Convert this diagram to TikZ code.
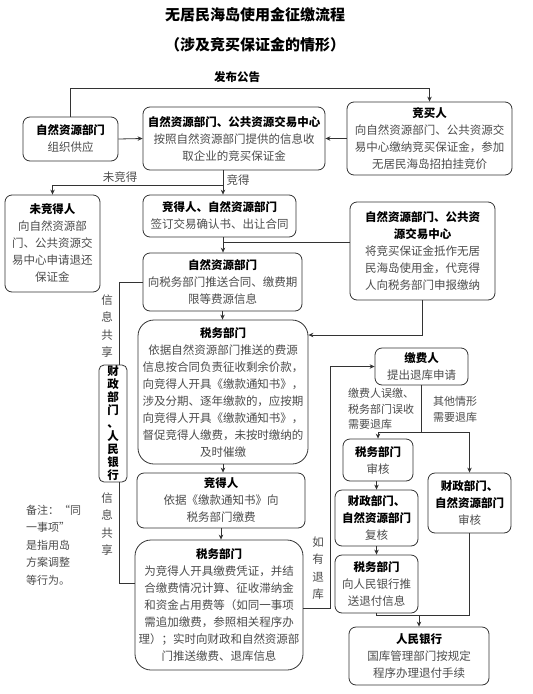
\documentclass[tikz,border=0pt]{standalone}
\usepackage{fontspec}
\setmainfont{Noto Sans CJK SC}
\usetikzlibrary{arrows.meta, positioning, calc}

\newcommand{\boxhead}[1]{\textcolor{black}{\bfseries #1}}

\begin{document}
\begin{tikzpicture}[
    x=1pt, y=-1pt,
    font=\fontsize{11.5}{17}\selectfont,
    box/.style={draw=black!80, line width=0.8pt, rounded corners=7pt, align=center, inner sep=0pt, text=black!70},
    bigbox/.style={box, rounded corners=16pt},
    arr/.style={-{Stealth[length=5pt,width=4.5pt]}, line width=0.8pt, draw=black!80},
    conn/.style={line width=0.8pt, draw=black!80},
    lab/.style={text=black!70, inner sep=0pt},
    vlab/.style={lab, align=center, font=\fontsize{11.5}{17.5}\selectfont},
]

\fill[white] (0,0) rectangle (533,694);
\useasboundingbox (0,0) rectangle (533,694);

% ===== Title =====
\node[font=\bfseries\fontsize{15}{18}\selectfont] (title) at (255,15) {无居民海岛使用金征缴流程};
\node[font=\bfseries\fontsize{15}{18}\selectfont] (subtitle) at (255,45) {（涉及竞买保证金的情形）};

% ===== Top row =====
\node[box, minimum width=95pt, minimum height=44pt] (supply) at (70.5,139) {\boxhead{自然资源部门}\\组织供应};
\node[box, minimum width=182pt, minimum height=63pt] (centre) at (234,138.5) {\boxhead{自然资源部门、公共资源交易中心}\\按照自然资源部门提供的信息收\\取企业的竞买保证金};
\node[box, minimum width=165pt, minimum height=73pt] (bidder) at (429.5,138.5) {\boxhead{竞买人}\\向自然资源部门、公共资源交\\易中心缴纳竞买保证金，参加\\无居民海岛招拍挂竞价};

% ===== Second row =====
\node[box, minimum width=95pt, minimum height=97pt] (loser) at (52.5,243.5) {\boxhead{未竞得人}\\向自然资源部\\门、公共资源交\\易中心申请退还\\保证金};
\node[box, minimum width=153pt, minimum height=42pt] (contract) at (219.5,216) {\boxhead{竞得人、自然资源部门}\\签订交易确认书、出让合同};
\node[box, minimum width=145pt, minimum height=98pt] (offset) at (422.5,251) {\boxhead{自然资源部门、公共资}\\\boxhead{源交易中心}\\将竞买保证金抵作无居\\民海岛使用金，代竞得\\人向税务部门申报缴纳};

% ===== Main column =====
\node[box, minimum width=159pt, minimum height=58pt] (push) at (222.5,282) {\boxhead{自然资源部门}\\向税务部门推送合同、缴费期\\限等费源信息};
\node[bigbox, minimum width=170pt, minimum height=144pt] (tax) at (223,392) {\boxhead{税务部门}\\依据自然资源部门推送的费源\\信息按合同负责征收剩余价款，\\向竞得人开具《缴款通知书》，\\涉及分期、逐年缴款的，应按期\\向竞得人开具《缴款通知书》，\\督促竞得人缴费，未按时缴纳的\\及时催缴};
\node[box, minimum width=168pt, minimum height=55pt] (winner) at (221,500.5) {\boxhead{竞得人}\\依据《缴款通知书》向\\税务部门缴费};
\node[bigbox, minimum width=168pt, minimum height=130pt] (receipt) at (219,605) {\boxhead{税务部门}\\为竞得人开具缴费凭证，并结\\合缴费情况计算、征收滞纳金\\和资金占用费等（如同一事项\\需追加缴费，参照相关程序办\\理）；实时向财政和自然资源部\\门推送缴费、退库信息};

% ===== Left side: finance / bank =====
\node[box, rounded corners=5pt, text=black, font=\bfseries\fontsize{11.5}{13}\selectfont, minimum width=28pt, minimum height=117pt] (finbank) at (113,423.5) {财\\政\\部\\门\\、\\人\\民\\银\\行};
\node[lab, anchor=west, align=left, font=\fontsize{11}{17.5}\selectfont] (note) at (26,545) {备注：“同\\一事项”\\是指用岛\\方案调整\\等行为。};

% ===== Right side: refund =====
\node[box, minimum width=93pt, minimum height=37pt] (payer) at (421.5,366.5) {\boxhead{缴费人}\\提出退库申请};
\node[box, minimum width=70pt, minimum height=42pt] (taxcheck) at (378,460) {\boxhead{税务部门}\\审核};
\node[box, minimum width=83pt, minimum height=60pt] (fincheck) at (469.5,503) {\boxhead{财政部门、}\\\boxhead{自然资源部门}\\审核};
\node[box, minimum width=83pt, minimum height=56pt] (recheck) at (376.5,518) {\boxhead{财政部门、}\\\boxhead{自然资源部门}\\复核};
\node[box, minimum width=83pt, minimum height=58pt] (taxpush) at (376.5,584) {\boxhead{税务部门}\\向人民银行推\\送退付信息};
\node[box, minimum width=140pt, minimum height=58pt] (bank) at (419,656) {\boxhead{人民银行}\\国库管理部门按规定\\程序办理退付手续};

% ===== Connectors =====
% announcement loop
\coordinate (pub) at (250,88);
\draw[conn] (supply.north) |- (pub);
\draw[arr] (pub) -| (bidder.north);
\node[lab, text=black, font=\bfseries\fontsize{11.5}{14}\selectfont] at (237,77) {发布公告};

\draw[arr] (supply.east) -- (centre.west);
\draw[arr] (bidder.west) -- (centre.west -| centre.east);

% won / not won
\coordinate (split) at (223,185);
\draw[conn] (split |- centre.south) -- (split);
\draw[arr] (split) -| (loser.north);
\draw[arr] (split) -- (split |- contract.north);
\node[lab] at (120,177) {未竞得};
\node[lab] at (238,180) {竞得};

\coordinate (join) at (223,242);
\draw[arr] (split |- contract.south) -- (split |- push.north);
\draw[conn] (join) -- (join -| offset.west);

\draw[arr] (push.south) -- (push.south |- tax.north);
\draw[arr] (tax.south) -- (tax.south |- winner.north);
\draw[arr] (winner.south) -- (winner.south |- receipt.north);

% offset -> tax
\coordinate (fh) at (421,335);
\draw[arr] (offset.south) |- (fh -| tax.east);

% information sharing
\coordinate (kx) at (119,0);
\coordinate (jk) at (119,583);
\draw[conn] (push.west) -| (kx |- finbank.north);
\draw[conn] (kx |- finbank.south) -- (jk) -- (jk -| receipt.west);
\node[vlab] at (107,326) {信\\息\\共\\享};
\node[vlab] at (107,524) {信\\息\\共\\享};

% refund loop
\coordinate (rt) at (330,608);
\draw[arr] (rt -| receipt.east) -- (rt) |- (payer.west);
\node[vlab] at (318,568) {如\\有\\退\\库};

\coordinate (ls) at (421.5,432);
\draw[conn] (payer.south) -- (ls);
\draw[arr] (ls) -| (taxcheck.north);
\draw[arr] (ls) -| (fincheck.north);
\node[lab, anchor=west, align=left, font=\fontsize{11}{15.5}\selectfont] at (348,409) {缴费人误缴、\\税务部门误收\\需要退库};
\node[lab, align=left, font=\fontsize{11}{16}\selectfont] at (455,409) {其他情形\\需要退库};

\draw[arr] (taxcheck.south -| recheck.north) -- (recheck.north);
\draw[arr] (recheck.south) -- (taxpush.north);

\coordinate (pq) at (419,615);
\draw[conn] (taxpush.south) |- (pq -| fincheck.south);
\draw[conn] (fincheck.south) -- (fincheck.south |- pq);
\draw[arr] (pq) -- (bank.north);

\end{tikzpicture}
\end{document}
